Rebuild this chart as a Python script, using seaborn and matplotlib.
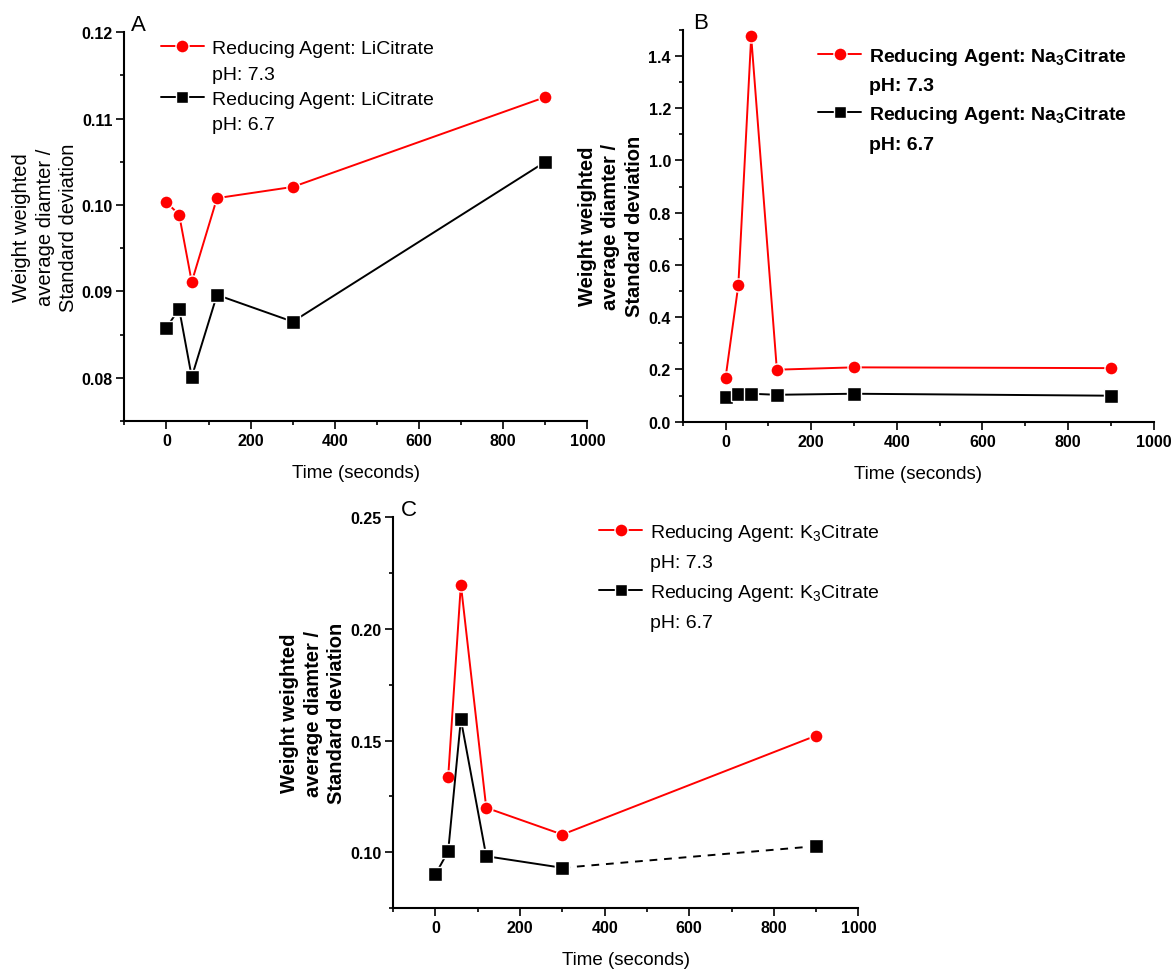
import matplotlib
matplotlib.use("Agg")
import matplotlib.pyplot as plt
import seaborn as sns
import pandas as pd
from matplotlib.ticker import MultipleLocator, FormatStrFormatter
from matplotlib.lines import Line2D

# ---------------- data ----------------
time_s = [0, 30, 60, 120, 300, 900]

a_ph73 = [0.1003, 0.0989, 0.0911, 0.1008, 0.1021, 0.1125]
a_ph67 = [0.0858, 0.0880, 0.0801, 0.0896, 0.0865, 0.1050]

b_ph73 = [0.166, 0.523, 1.474, 0.199, 0.208, 0.205]
b_ph67 = [0.096, 0.107, 0.107, 0.103, 0.107, 0.0995]

c_time73 = [30, 60, 120, 300, 900]
c_ph73 = [0.1336, 0.2199, 0.1199, 0.1079, 0.1522]
c_ph67 = [0.0901, 0.1004, 0.1595, 0.0982, 0.0930, 0.1027]

legend_a = ["Reducing Agent: LiCitrate", "pH: 7.3", "Reducing Agent: LiCitrate", "pH: 6.7"]
legend_b = ["Reducing Agent: Na$_3$Citrate", "pH: 7.3", "Reducing Agent: Na$_3$Citrate", "pH: 6.7"]
legend_c = ["Reducing Agent: K$_3$Citrate", "pH: 7.3", "Reducing Agent: K$_3$Citrate", "pH: 6.7"]

ylabel_text = "Weight weighted\naverage diamter /\nStandard deviation"
xlabel_text = "Time (seconds)"

# ---------------- style ----------------
sns.set_style("ticks")
plt.rcParams["font.family"] = ["Liberation Sans", "DejaVu Sans"]
plt.rcParams["mathtext.default"] = "regular"
plt.rcParams["axes.linewidth"] = 1.5
for key in ("text.color", "axes.labelcolor", "xtick.color", "ytick.color",
            "xtick.labelcolor", "ytick.labelcolor", "axes.edgecolor"):
    plt.rcParams[key] = "black"

RED = "#ff0000"
BLACK = "#000000"
MS = 9.4
MEW = 1.0
LW = 1.4

fig = plt.figure(figsize=(11.73, 9.70), dpi=100)
W, H = 1173.0, 970.0


def add_axes_px(left, top, right, bottom):
    return fig.add_axes([left / W, 1 - bottom / H, (right - left) / W, (bottom - top) / H])


def style_axes(ax, ylim, ymajor, yminor, yfmt, ylabel_bold, ylab_x):
    ax.set_xlim(-100, 1000)
    ax.set_ylim(*ylim)
    ax.xaxis.set_major_locator(MultipleLocator(200))
    ax.xaxis.set_minor_locator(MultipleLocator(100))
    ax.yaxis.set_major_locator(MultipleLocator(ymajor))
    ax.yaxis.set_minor_locator(MultipleLocator(yminor))
    ax.yaxis.set_major_formatter(FormatStrFormatter(yfmt))
    ax.tick_params(which="major", direction="out", length=5.5, width=1.2, pad=3,
                   labelsize=11.5, color="black", labelcolor="black")
    ax.tick_params(which="minor", direction="out", length=3, width=1.2, color="black")
    for lab in ax.get_xticklabels() + ax.get_yticklabels():
        lab.set_fontweight("bold")
    sns.despine(ax=ax)
    for sp in ("left", "bottom"):
        ax.spines[sp].set_linewidth(1.5)
        ax.spines[sp].set_color("black")
    ax.set_xlabel(xlabel_text, fontsize=13.5, color="black")
    ax.xaxis.set_label_coords(0.5, -0.11)
    ax.set_ylabel(ylabel_text, fontsize=14.5, fontweight="bold" if ylabel_bold else "normal",
                  linespacing=1.3, color="black")
    ax.yaxis.set_label_coords(ylab_x, 0.5)


def series(ax, x, y, color, marker, **kw):
    sns.lineplot(x=x, y=y, ax=ax, color=color, marker=marker, markersize=MS,
                 markeredgecolor="white", markeredgewidth=MEW, linewidth=LW,
                 sort=False, estimator=None, **kw)


def legend(ax, labels, anchor, size, bold, spacing):
    h1 = Line2D([], [], color=RED, marker="o", markersize=MS, markeredgecolor="white",
                markeredgewidth=MEW, linewidth=LW)
    h2 = Line2D([], [], color=BLACK, marker="s", markersize=MS - 0.6, markeredgecolor="white",
                markeredgewidth=MEW, linewidth=LW)
    empty = Line2D([], [], linestyle="none", marker=None)
    leg = ax.legend([h1, empty, h2, empty], labels, loc="upper left", bbox_to_anchor=anchor,
                    frameon=False, borderpad=0, borderaxespad=0, handlelength=2.2,
                    handletextpad=0.4, labelspacing=spacing,
                    prop={"size": size, "weight": "bold" if bold else "normal"})
    for t in leg.get_texts():
        t.set_color("black")


# ---------------- panel A ----------------
axA = add_axes_px(124.4, 33.3, 587.4, 422.0)
series(axA, time_s, a_ph73, RED, "o")
series(axA, time_s, a_ph67, BLACK, "s")
style_axes(axA, (0.075, 0.12), 0.01, 0.005, "%.2f", False, -0.100)
legend(axA, legend_a, (0.079, 0.981), 14, False, 0.40)

# ---------------- panel B ----------------
axB = add_axes_px(682.7, 30.7, 1153.5, 422.7)
series(axB, time_s, b_ph73, RED, "o")
series(axB, time_s, b_ph67, BLACK, "s")
style_axes(axB, (0.0, 1.5), 0.2, 0.1, "%.1f", True, -0.083)
legend(axB, legend_b, (0.288, 0.958), 14, True, 0.50)

# ---------------- panel C ----------------
axC = add_axes_px(393.2, 518.3, 858.4, 909.0)
series(axC, c_time73, c_ph73, RED, "o")
series(axC, time_s[:5], c_ph67[:5], BLACK, "s")
series(axC, time_s[4:], c_ph67[4:], BLACK, "s", linestyle=(0, (4, 3.5)))
style_axes(axC, (0.075, 0.25), 0.05, 0.025, "%.2f", True, -0.101)
legend(axC, legend_c, (0.443, 0.989), 14, False, 0.55)

# ---------------- panel letters ----------------
fig.text(138.5 / W, 1 - 25.8 / H, "A", fontsize=16, ha="center", va="center")
fig.text(701 / W, 1 - 23.7 / H, "B", fontsize=16, ha="center", va="center")
fig.text(408.4 / W, 1 - 510.5 / H, "C", fontsize=16, ha="center", va="center")

fig.savefig("out.png", dpi=100, facecolor="white")
